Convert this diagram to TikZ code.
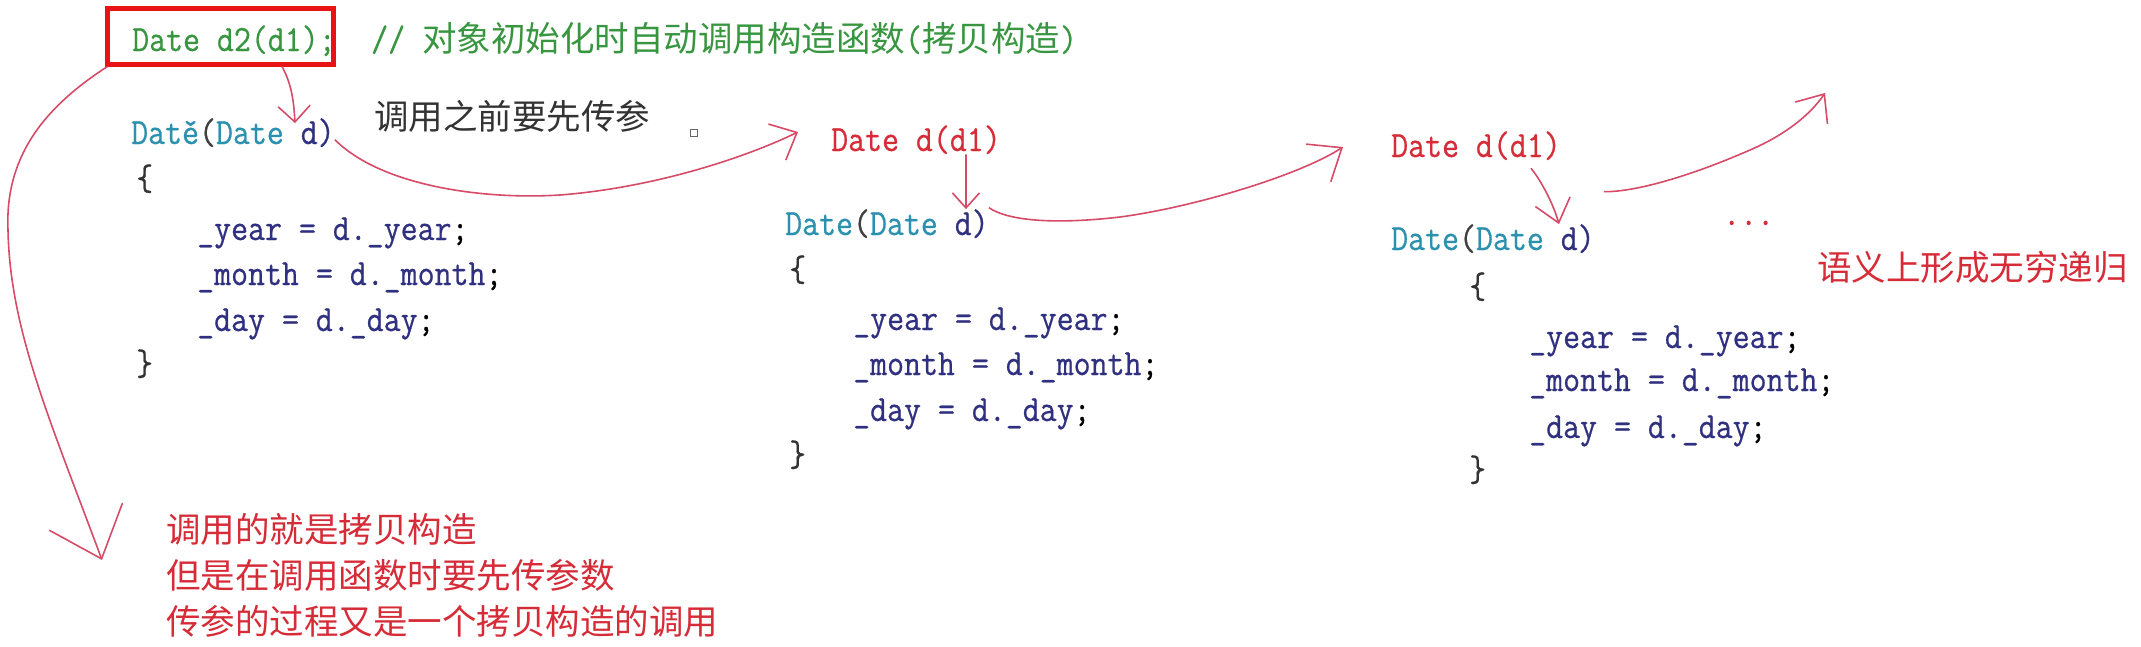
\documentclass[tikz,border=0pt]{standalone}
\usepackage{fontspec}
\usepackage{xcolor}
\usepackage{tikz}
\usetikzlibrary{arrows.meta,positioning}
\setmonofont{Latin Modern Mono}[FakeStretch=0.89,FakeBold=0.6]
\newfontfamily\cjk{Noto Sans CJK SC}
\definecolor{greenc}{RGB}{56,150,64}
\definecolor{tealc}{RGB}{43,145,175}
\definecolor{navyc}{RGB}{48,48,128}
\definecolor{redc}{RGB}{214,44,56}
\definecolor{pinkc}{RGB}{214,76,104}
\definecolor{boxred}{RGB}{232,20,20}
\newcommand{\codefont}{\ttfamily\fontsize{37}{44}\selectfont}
\newcommand{\hanfont}{\cjk\fontsize{34.5}{46}\selectfont}
\newcommand{\tyname}[1]{\textcolor{tealc}{#1}}
\newcommand{\vaname}[1]{\textcolor{navyc}{#1}}

\begin{document}
\begin{tikzpicture}[
  x=1pt,y=-1pt,
  code/.style={font=\codefont,anchor=base west,inner sep=0pt,text=navyc},
  note/.style={font=\hanfont,anchor=base west,inner sep=0pt,text=redc},
  arr/.style 2 args={draw=pinkc,line width=1.6pt,-{Straight Barb[length=#1,width=#2]}}
]
\fill[white] (0,0) rectangle (2141,646);
\useasboundingbox (0,0) rectangle (2141,646);

% call site
\node[draw=boxred,line width=5pt,minimum width=226pt,minimum height=56pt,inner sep=0pt] (box) at (220,36) {};
\node[code,text=greenc] (decl) at (132,51) {Date d2(d1);};
\node[code,text=greenc] (cmt) at (371,51) {//\ {\hanfont 对象初始化时自动调用构造函数}({\hanfont 拷贝构造})};
\node[note,text=black!80] (pre) at (374,129) {调用之前要先传参};
\node[draw=black!60,line width=1.2pt,minimum size=7pt,inner sep=0pt] (stop) at (694,133) {};

% first copy constructor
\node[code] (b1hd) at (131,144) {\tyname{Dat\v{e}}\textcolor{black!75}{(}\tyname{Date} d)};
\node[code,text=black!80] (b1op) at (136,190) {\{};
\node[code] (b1y) at (197,240) {\_year = d.\_year\textcolor{black}{;}};
\node[code] (b1m) at (197,285) {\_month = d.\_month\textcolor{black}{;}};
\node[code] (b1d) at (197,331) {\_day = d.\_day\textcolor{black}{;}};
\node[code,text=black!80] (b1cl) at (136,375) {\}};

% second
\node[code,text=redc] (b2in) at (831,151) {Date d(d1)};
\node[code] (b2hd) at (785,235) {\tyname{Date}\textcolor{black!75}{(}\tyname{Date} d)};
\node[code,text=black!80] (b2op) at (789,281) {\{};
\node[code] (b2y) at (853,330) {\_year = d.\_year\textcolor{black}{;}};
\node[code] (b2m) at (853,375) {\_month = d.\_month\textcolor{black}{;}};
\node[code] (b2d) at (853,421) {\_day = d.\_day\textcolor{black}{;}};
\node[code,text=black!80] (b2cl) at (789,466) {\}};

% third
\node[code,text=redc] (b3in) at (1391,157) {Date d(d1)};
\node[code] (b3hd) at (1391,250) {\tyname{Date}\textcolor{black!75}{(}\tyname{Date} d)};
\node[code,text=black!80] (b3op) at (1469,298) {\{};
\node[code] (b3y) at (1529,348) {\_year = d.\_year\textcolor{black}{;}};
\node[code] (b3m) at (1529,391) {\_month = d.\_month\textcolor{black}{;}};
\node[code] (b3d) at (1529,438) {\_day = d.\_day\textcolor{black}{;}};
\node[code,text=black!80] (b3cl) at (1469,481) {\}};
\node[code,text=redc] (more) at (1723,225) {...};
\node[note] (inf) at (1817,280) {语义上形成无穷递归};

% explanation
\node[note] (why1) at (166,542) {调用的就是拷贝构造};
\node[note] (why2) at ([yshift=-46pt]why1.base west) {但是在调用函数时要先传参数};
\node[note] (why3) at ([yshift=-46pt]why2.base west) {传参的过程又是一个拷贝构造的调用};

\coordinate (t1) at (102,560);
\coordinate (t3) at (798,132);
\coordinate (t5) at (1343,147);
\coordinate (t7) at (1825,93);

\draw[arr={45pt}{78pt}] ([xshift=3pt]box.south west) .. controls (40,110) and (5,160) .. (8,230)
  .. controls (10,330) and (50,420) .. (t1);
\draw[arr={16pt}{32pt}] ([xshift=62pt]box.south) .. controls +(10,18) and +(-1,-20) .. ([xshift=62pt,yshift=-5pt]b1hd.north);
\draw[arr={22pt}{40pt}] ([yshift=-7pt]b1hd.east) .. controls (380,185) and (480,200) .. (560,195)
  .. controls (650,188) and (740,160) .. (t3);
\draw[arr={15pt}{27pt}] ([xshift=50pt]b2in.south) -- ([xshift=79pt]b2hd.north);
\draw[arr={28pt}{45pt}] ([yshift=16pt]b2hd.east) .. controls (1010,222) and (1060,224) .. (1120,217)
  .. controls (1195,207) and (1300,175) .. (t5);
\draw[arr={22pt}{36pt}] ([xshift=55pt,yshift=-8pt]b3in.south) .. controls +(12,15) and +(-5,-18) .. ([xshift=66pt]b3hd.north);
\draw[arr={23pt}{39pt}] ([xshift=9pt,yshift=47pt]b3hd.east) .. controls (1640,192) and (1700,172) .. (1750,150)
  .. controls (1785,135) and (1810,115) .. (t7);
\end{tikzpicture}
\end{document}
